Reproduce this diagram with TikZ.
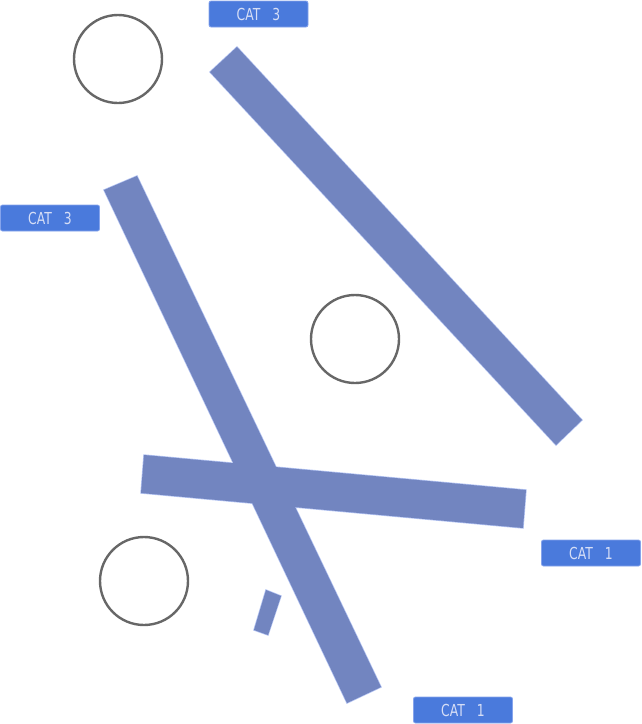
\documentclass[tikz,border=0pt]{standalone}
\usepackage{fontspec}
\newfontfamily\tagfont[FakeStretch=0.75]{DejaVu Sans}
\usepackage{xcolor}
\usepackage{tikz}
\usetikzlibrary{positioning}
\definecolor{barfill}{HTML}{7285C0}
\definecolor{baredge}{HTML}{B4C4F2}
\definecolor{tagfill}{HTML}{4A7ADC}
\definecolor{tagedge}{HTML}{86A4EC}
\definecolor{tagtext}{HTML}{D6DEF6}
\definecolor{ringgray}{HTML}{676767}
\newcommand{\cattext}[1]{CAT\hspace{12pt}#1}
\tikzset{
  cattag/.style={
    rectangle, rounded corners=2pt, draw=tagedge, fill=tagfill,
    text=tagtext, line width=0.8pt,
    minimum width=99pt, minimum height=26pt,
    font=\tagfont\fontsize{16.5}{17}\selectfont, inner sep=0pt
  },
  ring/.style={
    circle, draw=ringgray, line width=2.4pt,
    minimum size=88pt, inner sep=0pt
  },
  baredgeline/.style={draw=baredge, line width=1.4pt, line join=miter},
  barbody/.style={fill=barfill},
}

\begin{document}
\begin{tikzpicture}[x=1pt, y=-1pt]
    \useasboundingbox (0,0) rectangle (642,724);
    % bars: outlines first, bodies on top so the crossing stays clean
    \foreach \sty in {baredgeline, barbody}{
      \path[\sty] (210,72) -- (237,47) -- (582,420) -- (556,445) -- cycle;
      \path[\sty] (104,190) -- (137,176) -- (381,687) -- (347,703) -- cycle;
      \path[\sty] (144,455) -- (141,493) -- (523,528) -- (526,490) -- cycle;
      \path[\sty] (266,590) -- (281,596) -- (268,635) -- (254,630) -- cycle;
    }
    % rings
    \node[ring] (ringtop) at (118,59) {};
    \node[ring] (ringmid) at (355,339) {};
    \node[ring] (ringlow) at (144,581) {};
    % tags
    \node[cattag] (tagtop) at (258.5,14) {\cattext{3}};
    \node[cattag] (tagleft) at (50,218) {\cattext{3}};
    \node[cattag] (tagright) at (591,553) {\cattext{1}};
    \node[cattag] (tagbottom) at (463,710) {\cattext{1}};
\end{tikzpicture}
\end{document}
